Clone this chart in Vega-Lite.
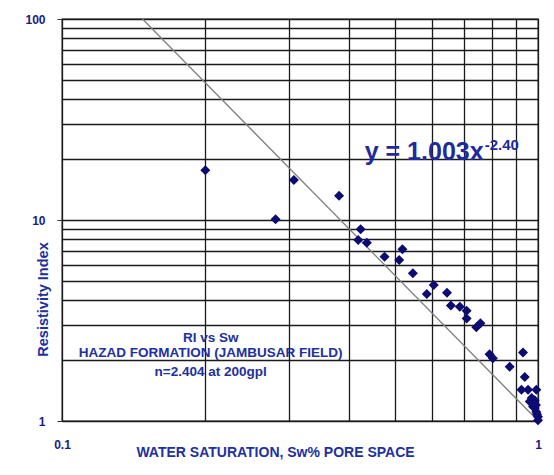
{
  "$schema": "https://vega.github.io/schema/vega-lite/v6.json",
  "width": 476,
  "height": 402,
  "autosize": "none",
  "padding": {"left": 62, "top": 19, "right": 16, "bottom": 54},
  "background": "white",
  "config": {
    "view": {"stroke": "#1a1a1a", "strokeWidth": 1.3},
    "font": "Liberation Sans"
  },
  "datasets": {
    "points": [
      {"x": 0.2, "y": 17.7}, {"x": 0.281, "y": 10.1}, {"x": 0.307, "y": 15.8}, {"x": 0.382, "y": 13.2},
      {"x": 0.424, "y": 9.0}, {"x": 0.419, "y": 7.95}, {"x": 0.437, "y": 7.7}, {"x": 0.476, "y": 6.57},
      {"x": 0.519, "y": 7.15}, {"x": 0.511, "y": 6.32}, {"x": 0.546, "y": 5.43}, {"x": 0.604, "y": 4.75},
      {"x": 0.584, "y": 4.28}, {"x": 0.644, "y": 4.35}, {"x": 0.656, "y": 3.75}, {"x": 0.685, "y": 3.7},
      {"x": 0.708, "y": 3.54}, {"x": 0.708, "y": 3.24}, {"x": 0.742, "y": 2.93}, {"x": 0.757, "y": 3.06},
      {"x": 0.791, "y": 2.15}, {"x": 0.804, "y": 2.05}, {"x": 0.872, "y": 1.86}, {"x": 0.93, "y": 2.19},
      {"x": 0.938, "y": 1.655}, {"x": 0.923, "y": 1.43}, {"x": 0.953, "y": 1.43}, {"x": 0.992, "y": 1.43},
      {"x": 0.961, "y": 1.25}, {"x": 0.984, "y": 1.27}, {"x": 0.976, "y": 1.18}, {"x": 0.992, "y": 1.11},
      {"x": 1.0, "y": 1.05}, {"x": 0.984, "y": 1.16}, {"x": 1.0, "y": 1.01}, {"x": 0.97, "y": 1.3},
      {"x": 0.99, "y": 1.2}, {"x": 0.995, "y": 1.08}, {"x": 0.98, "y": 1.22}
    ],
    "trend": [{"x": 0.1476, "y": 100}, {"x": 1.0, "y": 1.003}],
    "eq": [{"x": 0.4325, "y": 19.9, "label": "y = 1.003x"}],
    "sup": [{"x": 0.773, "y": 22.3, "label": "-2.40"}],
    "notes": [
      {"x": 0.2053, "y": 2.59, "label": "RI vs Sw"},
      {"x": 0.2053, "y": 2.18, "label": "HAZAD FORMATION (JAMBUSAR FIELD)"},
      {"x": 0.2053, "y": 1.753, "label": "n=2.404 at 200gpl"}
    ]
  },
  "encoding": {
    "x": {
      "field": "x", "type": "quantitative",
      "scale": {"type": "log", "domain": [0.1, 1], "nice": false},
      "axis": {
        "values": [0.1, 0.2, 0.3, 0.4, 0.5, 0.6, 0.7, 0.8, 0.9, 1],
        "grid": true, "gridColor": "#1a1a1a", "gridWidth": 1.3,
        "ticks": false, "tickSize": 0, "domain": false,
        "labelExpr": "(datum.value == 0.1 || datum.value == 1) ? datum.label : ''",
        "format": "~g", "labelFlush": false, "labelPadding": 18,
        "labelFont": "Liberation Sans", "labelFontWeight": "bold", "labelFontSize": 12, "labelColor": "#1a1a8c",
        "title": "WATER SATURATION, Sw% PORE SPACE",
        "titleFont": "Liberation Sans", "titleFontWeight": "bold", "titleFontSize": 14, "titleColor": "#2030a0",
        "titleX": 213, "titleY": 31, "titleBaseline": "middle", "titleAlign": "center"
      }
    },
    "y": {
      "field": "y", "type": "quantitative",
      "scale": {"type": "log", "domain": [1, 100], "nice": false},
      "axis": {
        "values": [1, 2, 3, 4, 5, 6, 7, 8, 9, 10, 20, 30, 40, 50, 60, 70, 80, 90, 100],
        "grid": true, "gridColor": "#1a1a1a", "gridWidth": 1.3,
        "tickSize": 5, "tickColor": "#333333",
        "tickOpacity": {"condition": {"test": "datum.value == 1 || datum.value == 10 || datum.value == 100", "value": 1}, "value": 0},
        "domainColor": "#1a1a1a",
        "labelExpr": "(datum.value == 1 || datum.value == 10 || datum.value == 100) ? datum.label : ''",
        "format": "~g", "labelFlush": false, "labelPadding": 12,
        "labelFont": "Liberation Sans", "labelFontWeight": "bold", "labelFontSize": 12, "labelColor": "#1a1a8c",
        "title": "Resistivity Index",
        "titleFont": "Liberation Sans", "titleFontWeight": "bold", "titleFontSize": 14.5, "titleColor": "#2030a0",
        "titleX": -19, "titleY": 280, "titleAngle": -90, "titleBaseline": "middle", "titleAlign": "center"
      }
    }
  },
  "layer": [
    {
      "data": {"name": "trend"},
      "mark": {"type": "line", "color": "#808080", "strokeWidth": 1.3},
      "encoding": {}
    },
    {
      "data": {"name": "points"},
      "mark": {"type": "point", "shape": "diamond", "filled": true, "color": "#0b0b72", "size": 100, "opacity": 1}
    },
    {
      "data": {"name": "eq"},
      "mark": {"type": "text", "align": "left", "baseline": "alphabetic", "font": "Liberation Sans", "fontWeight": "bold", "fontSize": 25, "color": "#1f2a9c"},
      "encoding": {"text": {"field": "label"}}
    },
    {
      "data": {"name": "sup"},
      "mark": {"type": "text", "align": "left", "baseline": "alphabetic", "font": "Liberation Sans", "fontWeight": "bold", "fontSize": 15, "color": "#1f2a9c"},
      "encoding": {"text": {"field": "label"}}
    },
    {
      "data": {"name": "notes"},
      "mark": {"type": "text", "align": "center", "baseline": "middle", "font": "Liberation Sans", "fontWeight": "bold", "fontSize": 13.5, "color": "#2030a0"},
      "encoding": {"text": {"field": "label"}}
    }
  ]
}
